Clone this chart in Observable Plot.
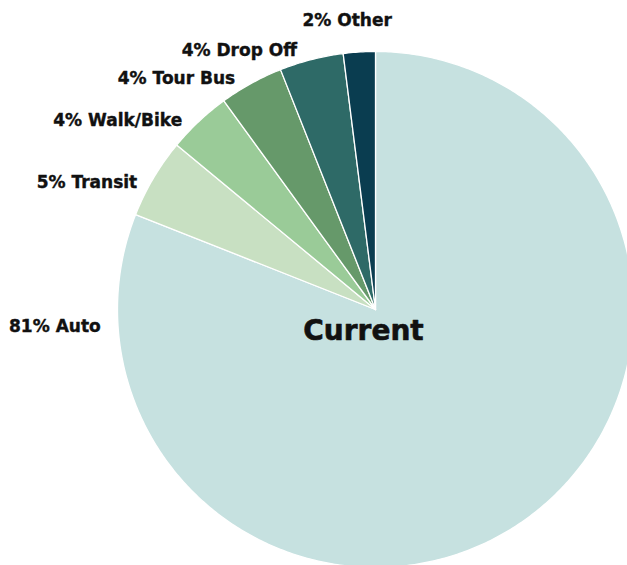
<!DOCTYPE html>
<html>
<head>
<meta charset="utf-8">
<script src="https://cdn.jsdelivr.net/npm/d3@7"></script>
<script src="https://cdn.jsdelivr.net/npm/@observablehq/plot@0.6"></script>
<style>
  html, body { margin: 0; padding: 0; background: #fff; }
  #chart svg { display: block; }
</style>
</head>
<body>
<div id="chart"></div>
<script>
// ---- data ----
const modes = ["Auto", "Transit", "Walk/Bike", "Tour Bus", "Drop Off", "Other"];
const shares = [81, 5, 4, 4, 4, 2];
const colors = ["#c6e1e0", "#c8e0c2", "#9acb98", "#66996a", "#2e6a67", "#0a3d50"];
const centerLabel = "Current";

// ---- layout ----
const W = 627, H = 565;
const cx = 375, cy = 309, R = 258;

const pie = d3.pie().sort(null).value(d => d.value).startAngle(0).endAngle(2 * Math.PI);
const slices = pie(modes.map((m, i) => ({name: m, value: shares[i], color: colors[i]})));

function polygon(s) {
  const pts = [{x: 0, y: 0}];
  const n = Math.max(4, Math.ceil((s.endAngle - s.startAngle) / 0.01));
  for (let k = 0; k <= n; k++) {
    const a = s.startAngle + (s.endAngle - s.startAngle) * k / n;
    pts.push({x: Math.sin(a), y: Math.cos(a)});
  }
  pts.push({x: 0, y: 0});
  return pts;
}

const deg = Math.PI / 180;
const endLabels = [], midLabels = [];
slices.forEach((s, i) => {
  const text = `${s.data.value}% ${s.data.name}`;
  const mid = (s.startAngle + s.endAngle) / 2;
  if (i === 0) {
    const a = 266.5 * deg, r = 1.067;
    endLabels.push({x: r * Math.sin(a), y: r * Math.cos(a), text});
  } else if (i === slices.length - 1) {
    const a = mid - 2 * deg, r = 1.125;
    midLabels.push({x: r * Math.sin(a), y: r * Math.cos(a), text});
  } else {
    const a = mid - 2.5 * deg, r = 1.047;
    endLabels.push({x: r * Math.sin(a), y: r * Math.cos(a), text});
  }
});

const font = "'DejaVu Sans', sans-serif";
const ink = "#111";

const chart = Plot.plot({
  width: W,
  height: H,
  margin: 0,
  x: {domain: [-cx / R, (W - cx) / R], axis: null},
  y: {domain: [-(H - cy) / R, cy / R], axis: null},
  style: {background: "#fff"},
  marks: [
    ...slices.map(s => Plot.line(polygon(s), {
      x: "x", y: "y", fill: s.data.color, stroke: "white",
      strokeWidth: 1.3, strokeLinejoin: "round", curve: "linear"
    })),
    Plot.text(endLabels, {x: "x", y: "y", text: "text", textAnchor: "end",
      fontSize: 17, fontWeight: "bold", fontFamily: font, fill: ink, stroke: ink, strokeWidth: 0.4}),
    Plot.text(midLabels, {x: "x", y: "y", text: "text", textAnchor: "middle",
      fontSize: 17, fontWeight: "bold", fontFamily: font, fill: ink, stroke: ink, strokeWidth: 0.4}),
    Plot.text([centerLabel], {x: () => 0, y: () => 0, text: d => d, dx: -12, dy: 22,
      fontSize: 28, fontWeight: "bold", fontFamily: font, fill: ink, stroke: ink, strokeWidth: 0.6})
  ]
});
document.getElementById("chart").appendChild(chart);
</script>
</body>
</html>
